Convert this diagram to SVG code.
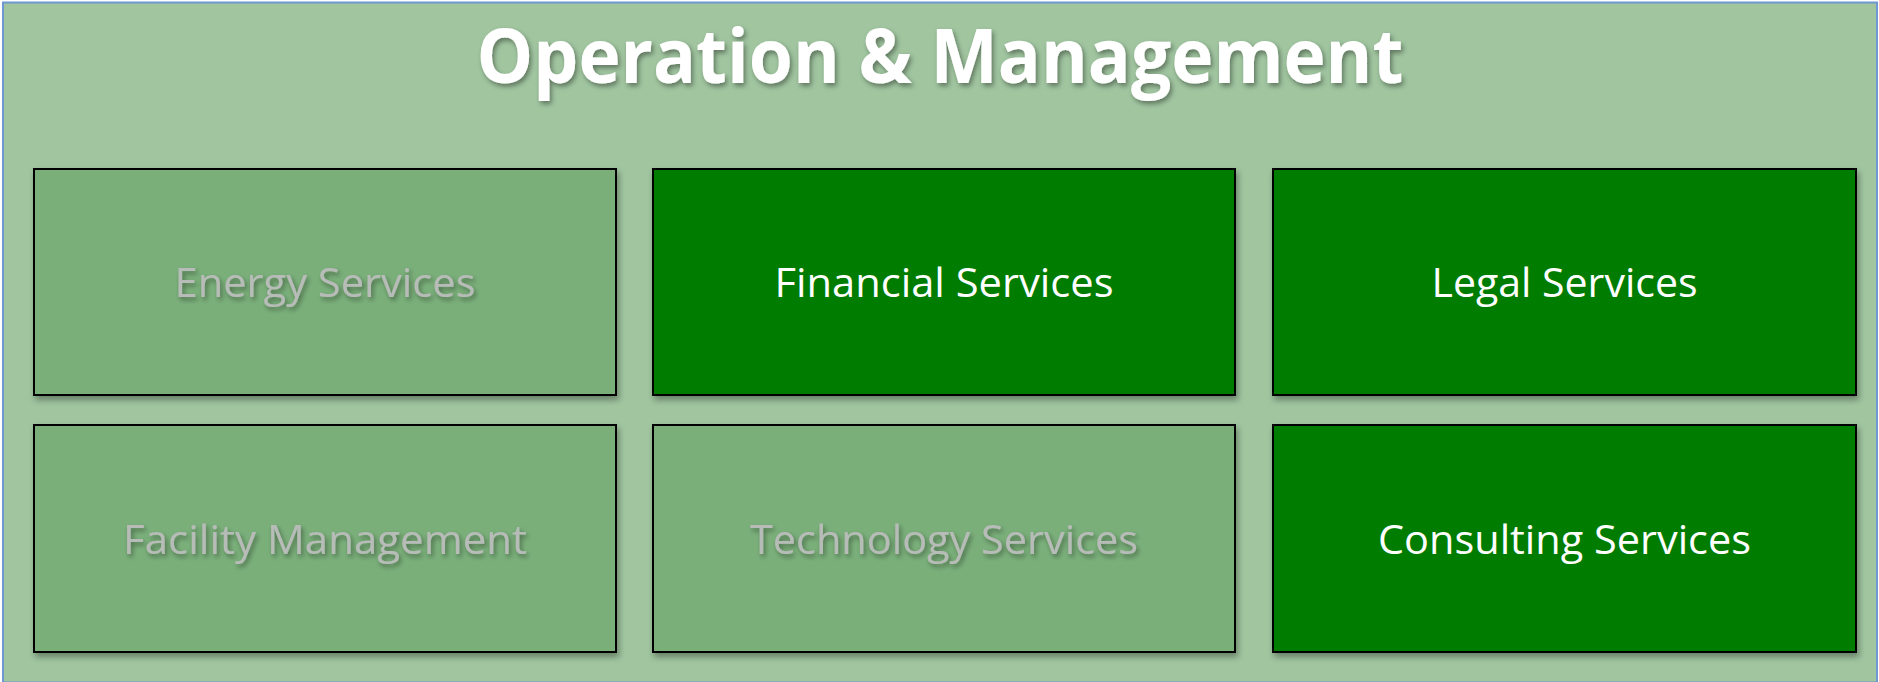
<svg xmlns="http://www.w3.org/2000/svg" width="1879" height="682" viewBox="0 0 1879 682">
<defs>
<filter id="bshadow" x="-5%" y="-5%" width="115%" height="120%">
<feDropShadow dx="2" dy="4" stdDeviation="3" flood-color="#000" flood-opacity="0.35"/>
</filter>
<filter id="tshadow" x="-5%" y="-20%" width="110%" height="150%">
<feDropShadow dx="2" dy="3" stdDeviation="2.5" flood-color="#000" flood-opacity="0.4"/>
</filter>
</defs>
<style>
.frame{fill:#a0c59f;stroke:#6f98d2;stroke-width:2}
.dark{fill:#007b00;stroke:#000;stroke-width:2}
.light{fill:#7aaf7a;stroke:#000;stroke-width:2}
.title{font-family:"Open Sans","Liberation Sans",sans-serif;font-weight:bold;font-size:76px;fill:#fff;text-anchor:middle}
.lbl{font-family:"Open Sans","Liberation Sans",sans-serif;font-size:40px;text-anchor:middle}
.w{fill:#fff}
.g{fill:#b8bcb8}
</style>
<rect class="frame" x="3" y="2.5" width="1874" height="680"/>
<g id="title">
<text class="title" x="940" y="83" textLength="927" lengthAdjust="spacingAndGlyphs" filter="url(#tshadow)">Operation &amp; Management</text>
</g>
<g id="energy">
<rect class="light" x="34" y="169" width="582" height="226" filter="url(#bshadow)"/>
<text class="lbl g" x="325" y="297" textLength="301" lengthAdjust="spacingAndGlyphs" filter="url(#tshadow)">Energy Services</text>
</g>
<g id="financial">
<rect class="dark" x="653" y="169" width="582" height="226" filter="url(#bshadow)"/>
<text class="lbl w" x="944" y="297" textLength="339" lengthAdjust="spacingAndGlyphs">Financial Services</text>
</g>
<g id="legal">
<rect class="dark" x="1273" y="169" width="583" height="226" filter="url(#bshadow)"/>
<text class="lbl w" x="1564.5" y="297" textLength="266" lengthAdjust="spacingAndGlyphs">Legal Services</text>
</g>
<g id="facility">
<rect class="light" x="34" y="425" width="582" height="227" filter="url(#bshadow)"/>
<text class="lbl g" x="325" y="554" textLength="404" lengthAdjust="spacingAndGlyphs" filter="url(#tshadow)">Facility Management</text>
</g>
<g id="technology">
<rect class="light" x="653" y="425" width="582" height="227" filter="url(#bshadow)"/>
<text class="lbl g" x="944" y="554" textLength="388" lengthAdjust="spacingAndGlyphs" filter="url(#tshadow)">Technology Services</text>
</g>
<g id="consulting">
<rect class="dark" x="1273" y="425" width="583" height="227" filter="url(#bshadow)"/>
<text class="lbl w" x="1564.5" y="554" textLength="373" lengthAdjust="spacingAndGlyphs">Consulting Services</text>
</g>
<g id="connectors"></g>
</svg>
